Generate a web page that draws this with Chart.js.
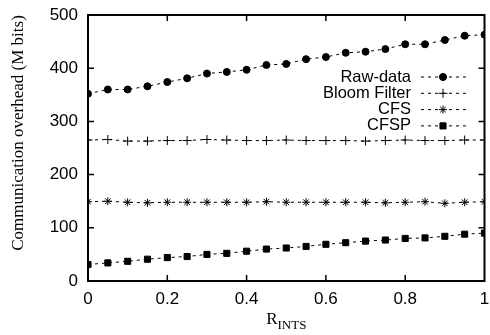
<!DOCTYPE html>
<html>
<head>
<meta charset="utf-8">
<script src="https://cdn.jsdelivr.net/npm/chart.js@4"></script>
<style>
  html, body { margin: 0; padding: 0; background: #fff; }
  #wrap { width: 490px; height: 335px; }
</style>
</head>
<body>
<div id="wrap"><canvas id="chart" width="490" height="335"></canvas></div>
<script>
// R_INTS values on the x axis
const rInts = [0, 0.05, 0.1, 0.15, 0.2, 0.25, 0.3, 0.35, 0.4, 0.45, 0.5,
               0.55, 0.6, 0.65, 0.7, 0.75, 0.8, 0.85, 0.9, 0.95, 1];
const rawData = [352, 360, 360, 366, 374, 381, 390, 393, 397, 406, 408,
                 417, 421, 429, 431, 436, 445, 445, 453, 461, 463];
const bloomFilter = [265, 266, 263, 263, 264, 264, 266, 265, 264, 264, 265,
                     264, 264, 264, 263, 264, 265, 264, 264, 265, 265];
const cfs = [149, 150, 148, 147, 148, 148, 148, 148, 148, 149, 148,
             148, 148, 148, 148, 147, 148, 149, 146, 148, 149];
const cfsp = [31, 34, 37, 41, 44, 46, 50, 52, 56, 60, 62,
              65, 69, 72, 75, 77, 80, 81, 84, 88, 90];
const seriesNames = ['Raw-data', 'Bloom Filter', 'CFS', 'CFSP'];
const yTicks = [0, 100, 200, 300, 400, 500];
const xTicks = [0, 0.2, 0.4, 0.6, 0.8, 1];

function pts(vals) {
  return vals.map((v, i) => ({x: rInts[i], y: v}));
}

const styles = [
  {pointStyle: 'circle', pointRadius: 3.5},
  {pointStyle: 'cross', pointRadius: 4.5},
  {pointStyle: 'star', pointRadius: 4},
  {pointStyle: 'rect', pointRadius: 4.3}
];

const datasets = [rawData, bloomFilter, cfs, cfsp].map((vals, i) => ({
  label: seriesNames[i],
  data: pts(vals),
  borderColor: '#000',
  backgroundColor: '#000',
  borderWidth: 1,
  borderDash: [3, 4],
  pointStyle: styles[i].pointStyle,
  pointRadius: styles[i].pointRadius,
  pointBorderWidth: 1,
  pointBorderColor: '#000',
  pointBackgroundColor: '#000',
  fill: false
}));

// frame, inner ticks, axis titles and legend in gnuplot style
const decor = {
  id: 'decor',
  afterDatasetsDraw(chart) {
    const ctx = chart.ctx;
    const a = chart.chartArea;
    const xs = chart.scales.x, ys = chart.scales.y;
    ctx.save();
    ctx.strokeStyle = '#000';
    ctx.lineWidth = 1.5;
    yTicks.forEach(v => {
      if (v === 0 || v === 500) return;
      const py = ys.getPixelForValue(v);
      ctx.beginPath();
      ctx.moveTo(a.left, py); ctx.lineTo(a.left + 6, py);
      ctx.moveTo(a.right, py); ctx.lineTo(a.right - 6, py);
      ctx.stroke();
    });
    xTicks.forEach(v => {
      if (v === 0 || v === 1) return;
      const px = xs.getPixelForValue(v);
      ctx.beginPath();
      ctx.moveTo(px, a.bottom); ctx.lineTo(px, a.bottom - 6);
      ctx.moveTo(px, a.top); ctx.lineTo(px, a.top + 6);
      ctx.stroke();
    });
    ctx.lineWidth = 2;
    ctx.strokeRect(a.left, a.top, a.right - a.left, a.bottom - a.top);

    // y title
    ctx.fillStyle = '#000';
    ctx.font = '17px "Liberation Serif"';
    ctx.textAlign = 'center';
    ctx.textBaseline = 'middle';
    ctx.save();
    ctx.translate(19, 133);
    ctx.rotate(-Math.PI / 2);
    ctx.fillText('Communication overhead (M bits)', 0, 0);
    ctx.restore();

    // x title R_INTS
    ctx.textAlign = 'left';
    ctx.textBaseline = 'alphabetic';
    ctx.font = '17px "Liberation Serif"';
    const rw = ctx.measureText('R').width;
    ctx.font = '13px "Liberation Serif"';
    const sw = ctx.measureText('INTS').width;
    const cx = (a.left + a.right) / 2;
    const x0 = cx - (rw + sw) / 2;
    ctx.font = '17px "Liberation Serif"';
    ctx.fillText('R', x0, 324);
    ctx.font = '13px "Liberation Serif"';
    ctx.fillText('INTS', x0 + rw, 329);

    // legend
    ctx.font = '16.5px "Liberation Sans"';
    ctx.textAlign = 'right';
    ctx.textBaseline = 'middle';
    chart.data.datasets.forEach((ds, i) => {
      const ly = 77 + i * 16.3;
      ctx.fillStyle = '#000';
      ctx.fillText(ds.label, 411, ly);
      ctx.lineWidth = 1;
      ctx.setLineDash([3, 4]);
      ctx.beginPath();
      ctx.moveTo(421, ly); ctx.lineTo(467, ly);
      ctx.stroke();
      ctx.setLineDash([]);
      Chart.helpers.drawPoint(ctx, {
        pointStyle: ds.pointStyle, radius: ds.pointRadius, borderWidth: 1
      }, 443, ly);
      ctx.fill();
    });
    ctx.restore();
  }
};

new Chart(document.getElementById('chart'), {
  type: 'line',
  data: {datasets: datasets},
  options: {
    responsive: false,
    animation: false,
    layout: {padding: {left: 0, right: 5, top: 15, bottom: 0}},
    plugins: {legend: {display: false}, tooltip: {enabled: false}},
    scales: {
      x: {
        type: 'linear', min: 0, max: 1,
        afterFit: s => { s.height = 54; s.paddingLeft = 0; s.paddingRight = 0; },
        afterBuildTicks: s => { s.ticks = xTicks.map(v => ({value: v})); },
        grid: {display: false, drawTicks: false},
        border: {display: false},
        ticks: {
          color: '#000', padding: 8,
          font: {family: 'Liberation Sans', size: 17},
          callback: v => String(v)
        }
      },
      y: {
        min: 0, max: 500,
        afterFit: s => { s.width = 88; s.paddingTop = 0; s.paddingBottom = 0; },
        afterBuildTicks: s => { s.ticks = yTicks.map(v => ({value: v})); },
        grid: {display: false, drawTicks: false},
        border: {display: false},
        ticks: {
          color: '#000', padding: 10,
          font: {family: 'Liberation Sans', size: 17}
        }
      }
    }
  },
  plugins: [decor]
});
</script>
</body>
</html>
